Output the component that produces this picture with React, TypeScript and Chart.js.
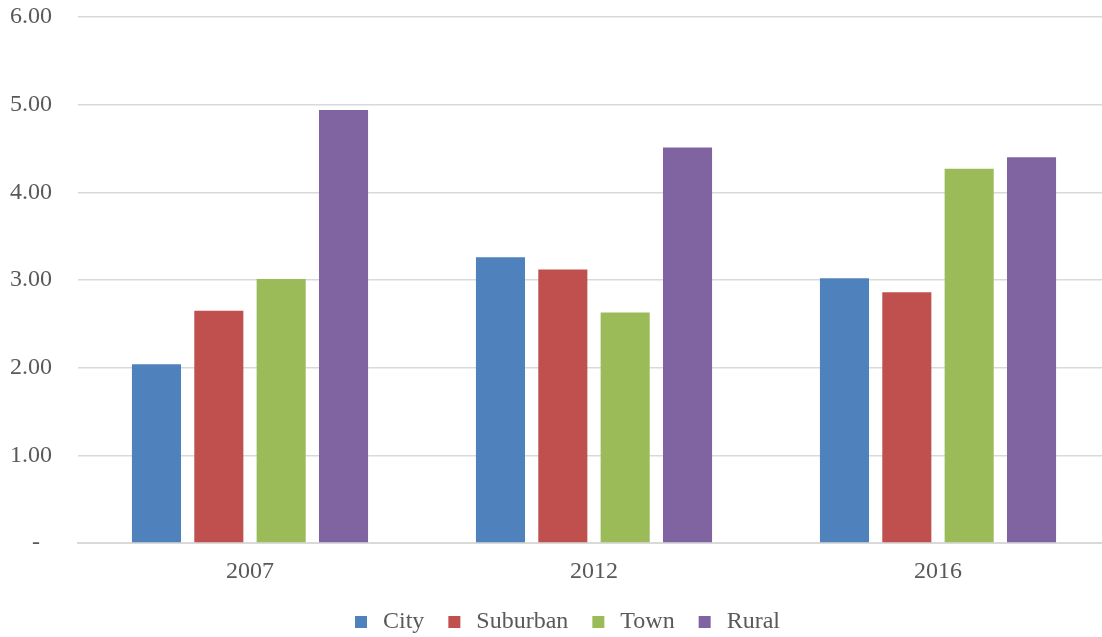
import React, { useEffect, useRef } from "react";
import { Chart, registerables } from "chart.js";

Chart.register(...registerables);

const categories = ["2007", "2012", "2016"];
const seriesNames = ["City", "Suburban", "Town", "Rural"];
const cityValues = [2.04, 3.26, 3.02];
const suburbanValues = [2.65, 3.12, 2.86];
const townValues = [3.01, 2.63, 4.27];
const ruralValues = [4.94, 4.51, 4.4];
const seriesColors = ["#4f81bd", "#c0504d", "#9bbb59", "#8064a2"];
const yTickLabels = ["-  ", "1.00", "2.00", "3.00", "4.00", "5.00", "6.00"];

const FONT = "'Liberation Serif', 'Times New Roman', serif";
const TEXT = "#595959";
const GRID = "#d9d9d9";

const legendShift = {
  id: "legendShift",
  afterLayout(chart: any) {
    if (chart.legend) {
      chart.legend.left += 10.5;
      chart.legend.right += 10.5;
    }
  },
};

export default function App() {
  const ref = useRef<HTMLCanvasElement | null>(null);

  useEffect(() => {
    document.body.style.overflow = "hidden";
    if (!ref.current) return;
    const values = [cityValues, suburbanValues, townValues, ruralValues];
    const chart = new Chart(ref.current, {
      type: "bar",
      data: {
        labels: categories,
        datasets: seriesNames.map((name, i) => ({
          label: name,
          data: values[i],
          backgroundColor: seriesColors[i],
          borderWidth: 0,
          categoryPercentage: 0.725,
          barPercentage: 0.787,
        })),
      },
      plugins: [legendShift],
      options: {
        animation: false,
        responsive: true,
        maintainAspectRatio: false,
        layout: { padding: { top: 17, right: 10, left: 0, bottom: 0 } },
        plugins: {
          tooltip: { enabled: false },
          legend: {
            position: "bottom",
            labels: {
              usePointStyle: true,
              pointStyle: "rect",
              boxWidth: 20,
              boxHeight: 12,
              padding: 20,
              color: TEXT,
              font: { family: FONT, size: 24 },
            },
          },
        },
        scales: {
          x: {
            grid: { display: false, drawTicks: false },
            border: { display: true, color: GRID, width: 2 },
            ticks: {
              color: TEXT,
              font: { family: FONT, size: 24 },
              padding: 14,
            },
            afterFit: (scale: any) => {
              scale.height = 47;
            },
          },
          y: {
            min: 0,
            max: 6,
            grid: { color: GRID, lineWidth: 1.5, drawTicks: false },
            border: { display: false },
            ticks: {
              stepSize: 1,
              color: TEXT,
              font: { family: FONT, size: 24 },
              padding: 26,
              callback: (v: any) => yTickLabels[Math.round(Number(v))],
            },
            afterFit: (scale: any) => {
              scale.width = 78;
              scale.paddingTop = 0;
              scale.paddingBottom = 0;
            },
          },
        },
      },
    });
    return () => chart.destroy();
  }, []);

  return (
    <div
      style={{
        position: "fixed",
        left: 0,
        top: 0,
        width: 1120,
        height: 644,
        background: "#ffffff",
      }}
    >
      <canvas ref={ref} />
    </div>
  );
}
